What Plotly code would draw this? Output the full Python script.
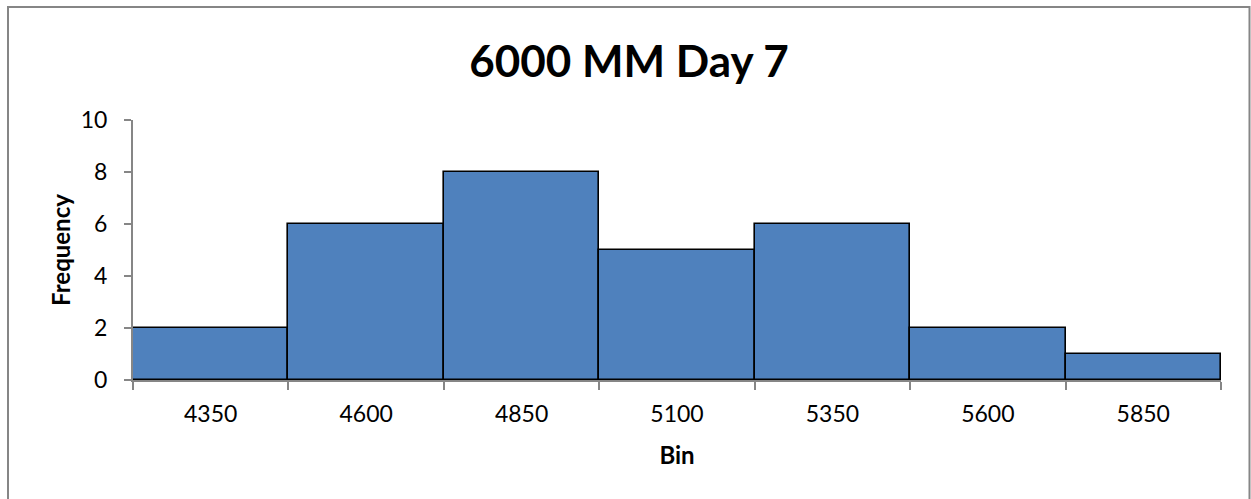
import plotly.graph_objects as go

# Histogram bins and their counts
bins = ["4350", "4600", "4850", "5100", "5350", "5600", "5850"]
frequency = [2, 6, 8, 5, 6, 2, 1]
y_ticks = [0, 2, 4, 6, 8, 10]

W, H = 1251, 499
L, R, T, B = 133, 30, 120, 119
pw, ph = W - L - R, H - T - B

def px_x(x):
    return (x - L) / pw

def px_y(y):
    return (H - B - y) / ph

FONT = "Lato"
AXIS_GREY = "#868686"

fig = go.Figure(
    go.Bar(
        x=bins,
        y=frequency,
        width=1,
        marker=dict(color="#4F81BD", line=dict(color="black", width=1.6)),
    )
)

fig.update_layout(
    width=W,
    height=H,
    margin=dict(l=L, r=R, t=T, b=B),
    paper_bgcolor="white",
    plot_bgcolor="white",
    showlegend=False,
    bargap=0,
    title=dict(
        text="<b>6000 MM Day 7</b>",
        x=629 / W,
        xref="container",
        xanchor="center",
        y=1 - 62 / H,
        yanchor="middle",
        font=dict(family=FONT, size=44, color="black"),
    ),
    font=dict(family=FONT, size=23, color="black"),
    xaxis=dict(
        type="category",
        tickson="boundaries",
        ticks="outside",
        ticklen=8,
        tickcolor=AXIS_GREY,
        tickwidth=1.5,
        showline=True,
        linecolor=AXIS_GREY,
        linewidth=2,
        showgrid=False,
        tickfont=dict(family=FONT, size=23),
        ticklabelstandoff=12,
        title=dict(text="<b>Bin</b>", font=dict(family=FONT, size=24), standoff=22),
        range=[-0.5, 6.5],
    ),
    yaxis=dict(
        range=[0, 10],
        tickvals=y_ticks,
        ticks="outside",
        ticklen=7,
        tickcolor=AXIS_GREY,
        tickwidth=1.5,
        showline=True,
        linecolor=AXIS_GREY,
        linewidth=2,
        showgrid=False,
        zeroline=False,
        tickfont=dict(family=FONT, size=23),
        ticklabelstandoff=12,
        title=dict(text="<b>Frequency</b>", font=dict(family=FONT, size=24), standoff=3),
    ),
    shapes=[
        dict(
            type="rect",
            xref="paper",
            yref="paper",
            x0=px_x(8),
            x1=px_x(1249.5),
            y0=px_y(H + 20),
            y1=px_y(7),
            line=dict(color=AXIS_GREY, width=2),
            fillcolor="rgba(0,0,0,0)",
            layer="below",
        )
    ],
)

fig.write_html("out.html")
